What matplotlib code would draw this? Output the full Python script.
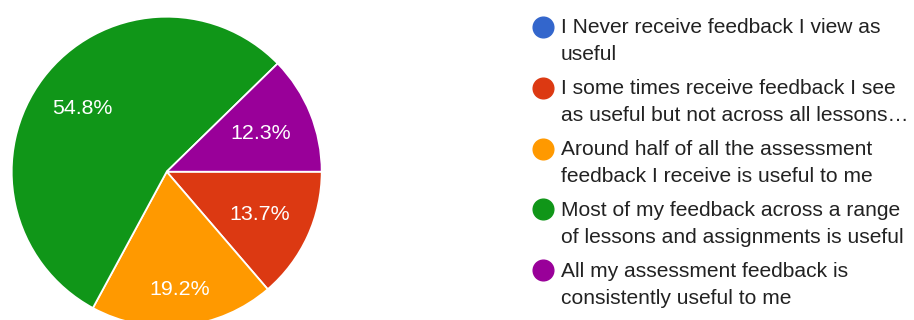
import matplotlib
matplotlib.use("Agg")
import matplotlib.pyplot as plt
from matplotlib.lines import Line2D
import numpy as np

labels = [
    "I Never receive feedback I view as\nuseful",
    "I some times receive feedback I see\nas useful but not across all lessons\u2026",
    "Around half of all the assessment\nfeedback I receive is useful to me",
    "Most of my feedback across a range\nof lessons and assignments is useful",
    "All my assessment feedback is\nconsistently useful to me",
]
values = [0.0, 13.7, 19.2, 54.8, 12.3]
colors = ["#3366cc", "#dc3912", "#ff9900", "#109618", "#990099"]

plt.rcParams["font.family"] = ["Liberation Sans", "DejaVu Sans"]

W, H = 914, 320
fig = plt.figure(figsize=(W / 100, H / 100), dpi=100)
fig.patch.set_facecolor("white")

cx, cy, r = 166.7, H - 171.7, 155.0
ax = fig.add_axes([(cx - r) / W, (cy - r) / H, 2 * r / W, 2 * r / H])
wedges, _ = ax.pie(values, colors=colors, startangle=0, counterclock=False,
                   radius=1, wedgeprops=dict(edgecolor="white", linewidth=1.3))
ax.set_xlim(-1, 1)
ax.set_ylim(-1, 1)
ax.set_aspect("equal")
ax.axis("off")

label_dist = [0.66, 0.66, 0.765, 0.68, 0.655]
total = sum(values)
for w, v, d in zip(wedges, values, label_dist):
    if v <= 0:
        continue
    th = np.deg2rad((w.theta1 + w.theta2) / 2)
    ax.text(d * np.cos(th), d * np.sin(th), f"{100 * v / total:.1f}%",
            ha="center", va="center", color="white", fontsize=15.4)

# legend
y0 = 26.7
pitch = 60.9
gap = 27.3
for i, (lab, c) in enumerate(zip(labels, colors)):
    ym = y0 + i * pitch
    fig.add_artist(Line2D([543 / W], [1 - ym / H], transform=fig.transFigure,
                          marker="o", markersize=14.9, color=c, linestyle=""))
    for k, line in enumerate(lab.split("\n")):
        fig.text(561 / W, 1 - (ym + 6.3 + k * gap) / H, line, ha="left",
                 va="baseline", color="#222222", fontsize=15.1)

fig.savefig("out.png", dpi=100, facecolor="white")
